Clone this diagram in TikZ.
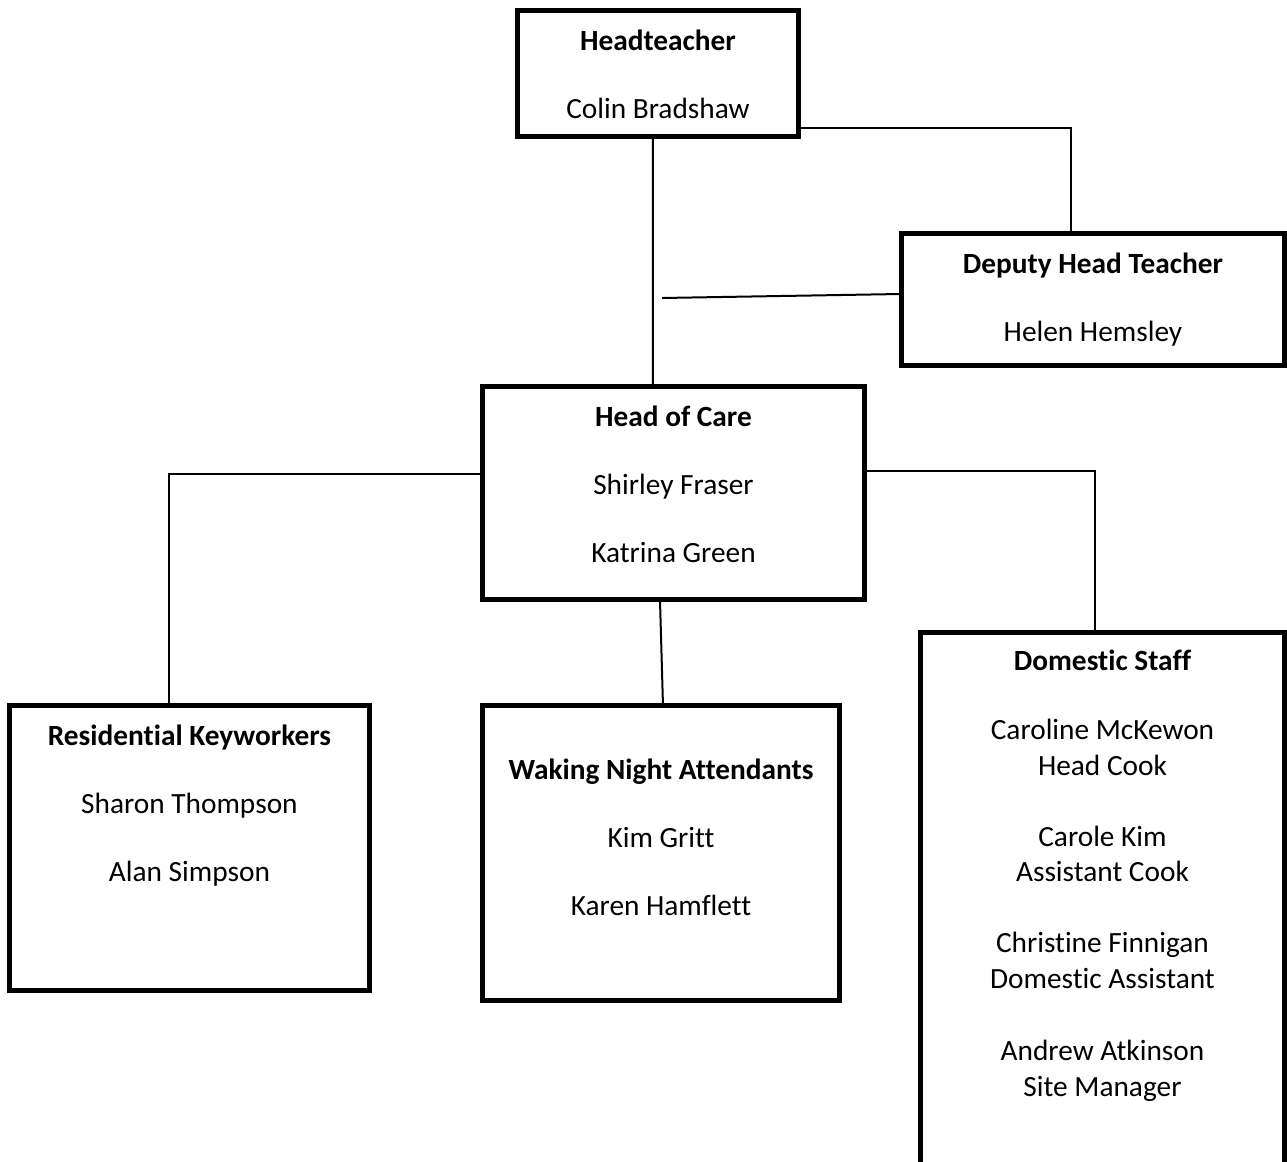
\documentclass[tikz,border=0pt]{standalone}
\usepackage{fontspec}
\setmainfont{Carlito}[Ligatures=NoCommon]
\usetikzlibrary{positioning}

\begin{document}
\begin{tikzpicture}[x=0.02cm,y=-0.02cm]
	\tikzset{%
		orgbox/.style={draw,line width=0.1cm,outer sep=0pt,inner sep=0pt,anchor=north west},
		staff/.style={align=center,inner sep=0pt,outer sep=0pt,font=\fontsize{16.7}{20.4}\selectfont},
		link/.style={line width=0.04cm},
	}

	\def\gap{0.64cm}

	\path[use as bounding box,clip] (0,0) rectangle (1287,1162);

	% boxes, corner at the line centre
	\node[orgbox,minimum width=5.64cm,minimum height=2.52cm] (head) at (517,10.5) {};
	\node[orgbox,minimum width=7.66cm,minimum height=2.64cm] (deputy) at (901.5,233.5) {};
	\node[orgbox,minimum width=7.64cm,minimum height=4.26cm] (care) at (482.5,386.5) {};
	\node[orgbox,minimum width=7.20cm,minimum height=5.71cm] (keyw) at (9.5,705) {};
	\node[orgbox,minimum width=7.14cm,minimum height=5.91cm] (night) at (482.5,705) {};
	\node[orgbox,minimum width=7.28cm,minimum height=12cm] (domestic) at (920.5,632) {};

	% texts
	\node[staff,below=0.39cm of head.north] (head-txt) {\textbf{Headteacher}\\[\gap]Colin Bradshaw};
	\node[staff,below=0.39cm of deputy.north] (deputy-txt) {\textbf{Deputy Head Teacher}\\[\gap]Helen Hemsley};
	\node[staff,below=0.39cm of care.north] (care-txt) {\textbf{Head of Care}\\[\gap]Shirley Fraser\\[\gap]Katrina Green};
	\node[staff,below=0.40cm of keyw.north] (keyw-txt) {\textbf{Residential Keyworkers}\\[\gap]Sharon Thompson\\[\gap]Alan Simpson};
	\node[staff,below=1.08cm of night.north] (night-txt) {\textbf{Waking Night Attendants}\\[\gap]Kim Gritt\\[\gap]Karen Hamflett};
	\node[staff,below=0.36cm of domestic.north] (domestic-txt) {\textbf{Domestic Staff}\\[0.66cm]Caroline McKewon\\Head Cook\\[0.7cm]Carole Kim\\Assistant Cook\\[0.7cm]Christine Finnigan\\Domestic Assistant\\[0.72cm]Andrew Atkinson\\Site Manager};

	% connectors
	\coordinate (stub) at (662,298);
	\draw[link] ([xshift=-0.1cm]head.south) -- ([xshift=-0.41cm]care.north);
	\draw[link] ([yshift=-1.09cm]head.east) -| ([xshift=-0.44cm]deputy.north);
	\draw[link] ([yshift=0.11cm]deputy.west) -- (stub);
	\draw[link] ([yshift=0.38cm]care.west) -| ([xshift=-0.41cm]keyw.north);
	\draw[link] ([yshift=0.44cm]care.east) -| ([xshift=-0.15cm]domestic.north);
	\draw[link] ([xshift=-0.27cm]care.south) -- ([xshift=0.04cm]night.north);
\end{tikzpicture}
\end{document}
